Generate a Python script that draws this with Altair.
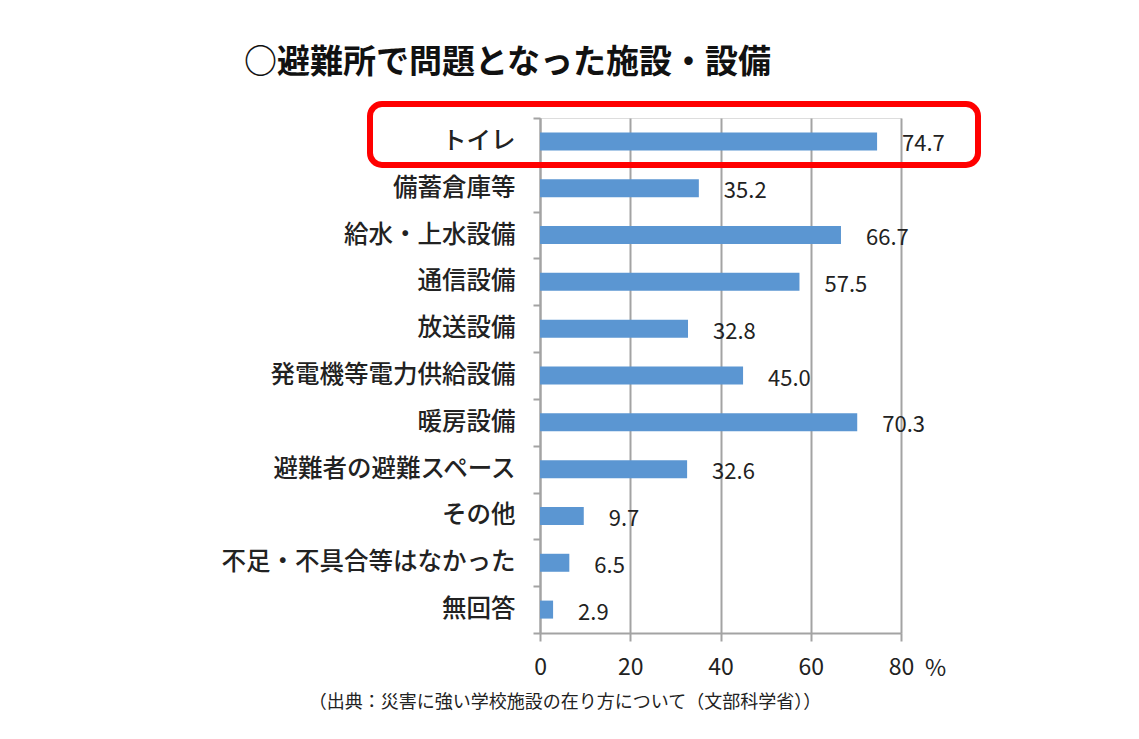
import altair as alt
import pandas as pd

categories = ["トイレ", "備蓄倉庫等", "給水・上水設備", "通信設備", "放送設備",
              "発電機等電力供給設備", "暖房設備", "避難者の避難スペース", "その他",
              "不足・不具合等はなかった", "無回答"]
values = [74.7, 35.2, 66.7, 57.5, 32.8, 45.0, 70.3, 32.6, 9.7, 6.5, 2.9]
x_ticks = [0, 20, 40, 60, 80]
title_text = "○避難所で問題となった施設・設備"
source_text = "（出典：災害に強い学校施設の在り方について（文部科学省））"
unit_text = "%"
highlight = ["トイレ"]

df = pd.DataFrame({"cat": categories, "val": values})
df["label"] = df["val"].map(lambda v: f"{v:.1f}")

FONT = "Noto Sans CJK JP"
GRID = "#a3a3a3"

xs = alt.X("val:Q", scale=alt.Scale(domain=[0, 80], nice=False),
           axis=alt.Axis(values=x_ticks, title=None, grid=True, gridColor=GRID, gridWidth=2,
                         domainColor=GRID, domainWidth=2, tickColor=GRID, tickWidth=2,
                         tickSize=8, labelFontSize=23, labelFont=FONT, labelColor="#222",
                         labelPadding=15, labelFlush=False))
ys = alt.Y("cat:N", sort=categories,
           scale=alt.Scale(paddingInner=0, paddingOuter=0),
           axis=alt.Axis(title=None, domainColor=GRID, domainWidth=2, tickColor=GRID,
                         tickWidth=2, tickSize=7, tickBand="extent", labelFontSize=24.5,
                         labelFont=FONT, labelColor="#222", labelFontWeight=500,
                         labelPadding=18, labelLimit=0))

bars = alt.Chart(df).mark_bar(size=18, color="#5b96d2").encode(x=xs, y=ys)

labels = alt.Chart(df).mark_text(align="left", baseline="middle", dx=25, dy=3,
                                 fontSize=22, font=FONT, color="#222").encode(
    x="val:Q", y=alt.Y("cat:N", sort=categories), text="label:N")

box_df = pd.DataFrame({"cat": highlight})
box = alt.Chart(box_df).mark_rect(filled=False, stroke="#ff0000", strokeWidth=6,
                                  cornerRadius=12, clip=False).encode(
    x=alt.value(-170), x2=alt.value(438), y=alt.value(-14), y2=alt.value(47))

unit = alt.Chart(pd.DataFrame({"t": [unit_text]})).mark_text(
    fontSize=23, font=FONT, color="#222", align="left", baseline="middle").encode(
    x=alt.value(385), y=alt.value(551), text="t:N")

source = alt.Chart(pd.DataFrame({"t": [source_text]})).mark_text(
    fontSize=18, font=FONT, color="#222", align="center", baseline="middle").encode(
    x=alt.value(25), y=alt.value(585), text="t:N")

title = alt.Chart(pd.DataFrame({"t": [title_text]})).mark_text(
    fontSize=33, font=FONT, fontWeight="bold", color="#111", align="left",
    baseline="middle").encode(x=alt.value(-296), y=alt.value(-55), text="t:N")

chart = alt.layer(bars, labels, box, unit, source, title).properties(
    width=361, height=515,
    autosize=alt.AutoSizeParams(type="none"),
    padding={"left": 532, "top": 110, "right": 230, "bottom": 100},
).configure_view(stroke=None).configure(background="white")

chart.save("out.html", embed_options={"renderer": "svg", "actions": False})
